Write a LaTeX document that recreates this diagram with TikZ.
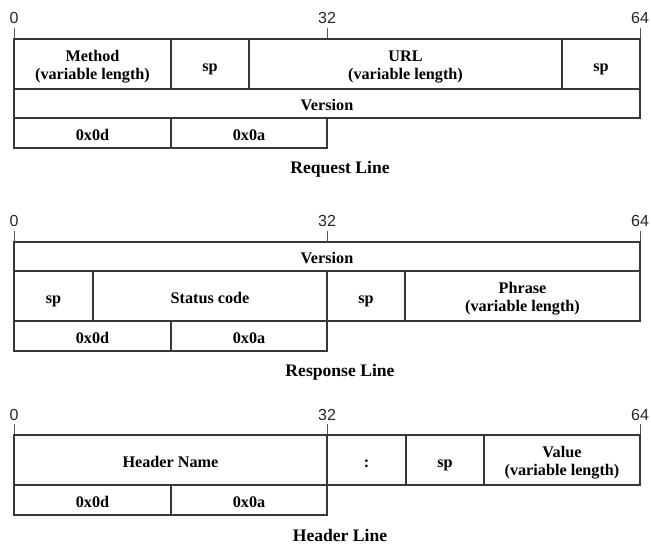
\documentclass[tikz,border=0pt]{standalone}
\usepackage{fontspec}
\setmainfont{Liberation Serif}
\newfontfamily\ticksans{Liberation Sans}
\tikzset{
  x=1pt, y=-1pt,
  frame/.style={draw=black!78, line width=1.3pt, inner sep=0pt},
  fieldtext/.style={inner sep=0pt, anchor=base,
    font=\bfseries\fontsize{16.2}{18}\selectfont, text=black},
  ticklabel/.style={inner xsep=1pt, inner ysep=4pt, anchor=base,
    font=\ticksans\fontsize{16}{18}\selectfont, text=black!85},
  tickline/.style={draw=black!65, line width=0.9pt},
  caption/.style={inner sep=0pt, anchor=base,
    font=\bfseries\fontsize{17.6}{20}\selectfont}
}
% frame of one field, named #1, from (#2,#3) to (#4,#5)
\newcommand\fieldframe[5]{%
  \node[frame, minimum width={(#4-#2)*1pt}, minimum height={(#5-#3)*1pt}]
    (#1) at ({(#2+#4)/2},{(#3+#5)/2}) {};}
% \fieldcell{name}{x1}{y1}{x2}{y2}{text}: one line of text
\newcommand\fieldcell[6]{%
  \fieldframe{#1}{#2}{#3}{#4}{#5}
  \node[fieldtext] (#1-t) at ({(#2+#4)/2},{(#3+#5)/2+7}) {#6};}
% \fieldcelltwo{name}{x1}{y1}{x2}{y2}{first line}{second line}
\newcommand\fieldcelltwo[7]{%
  \fieldframe{#1}{#2}{#3}{#4}{#5}
  \node[fieldtext] (#1-ta) at ({(#2+#4)/2},{(#3+#5)/2-2.5}) {#6};
  \node[fieldtext] (#1-tb) at ({(#2+#4)/2},{(#3+#5)/2+15.5}) {#7};}
% \bitticks{prefix}{top of the frame}{baseline of the bit numbers}
\newcommand\bitticks[3]{%
  \foreach \bx/\bl in {14/0,327/32,640/64}{%
    \node[ticklabel] (#1-lab\bl) at (\bx,#3) {\bl};
    \coordinate (#1-foot\bl) at (\bx,#2);
    \draw[tickline] (#1-lab\bl.south) -- (#1-foot\bl);
  }}
\begin{document}
\begin{tikzpicture}
\useasboundingbox (0,0) rectangle (651,544);

% request line
\bitticks{rq}{39}{23.5}
\fieldcelltwo{rq-method}{14}{39}{171}{89}{Method}{(variable length)}
\fieldcell{rq-sp1}{171}{39}{249}{89}{sp}
\fieldcelltwo{rq-url}{249}{39}{562}{89}{URL}{(variable length)}
\fieldcell{rq-sp2}{562}{39}{640}{89}{sp}
\fieldcell{rq-ver}{14}{89}{640}{118}{Version}
\fieldcell{rq-cr}{14}{118}{171}{148}{0x0d}
\fieldcell{rq-lf}{171}{118}{327}{148}{0x0a}
\node[caption] (rq-cap) at (340,173) {Request Line};

% response line
\bitticks{rs}{242}{226.5}
\fieldcell{rs-ver}{14}{242}{640}{271}{Version}
\fieldcell{rs-sp1}{14}{271}{93}{321}{sp}
\fieldcell{rs-code}{93}{271}{327}{321}{Status code}
\fieldcell{rs-sp2}{327}{271}{405}{321}{sp}
\fieldcelltwo{rs-phrase}{405}{271}{640}{321}{Phrase}{(variable length)}
\fieldcell{rs-cr}{14}{321}{171}{351}{0x0d}
\fieldcell{rs-lf}{171}{321}{327}{351}{0x0a}
\node[caption] (rs-cap) at (340,376) {Response Line};

% header line
\bitticks{hd}{435}{420}
\fieldcell{hd-name}{14}{435}{327}{485}{Header Name}
\fieldcell{hd-colon}{327}{435}{406}{485}{:}
\fieldcell{hd-sp}{406}{435}{484}{485}{sp}
\fieldcelltwo{hd-value}{484}{435}{640}{485}{Value}{(variable length)}
\fieldcell{hd-cr}{14}{485}{171}{515}{0x0d}
\fieldcell{hd-lf}{171}{485}{327}{515}{0x0a}
\node[caption] (hd-cap) at (340,541.5) {Header Line};
\end{tikzpicture}
\end{document}
